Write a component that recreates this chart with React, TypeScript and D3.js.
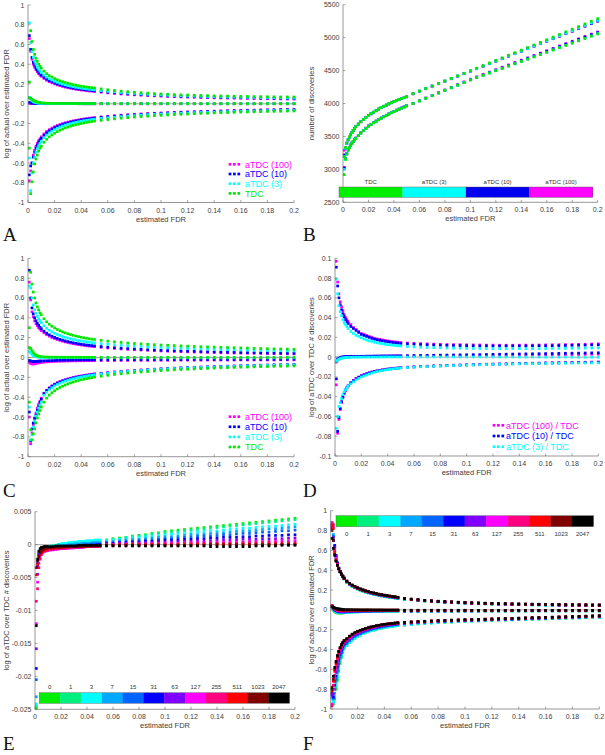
import React from 'react';
import * as d3 from 'd3';

// ---------- shared x grid (estimated FDR) ----------
const fdr = [0.001,0.002,0.003,0.004,0.005,0.006,0.007,0.008,0.009,0.01,
  0.012,0.014,0.016,0.018,0.02,0.022,0.024,0.026,0.028,0.03,
  0.032,0.034,0.036,0.038,0.04,0.042,0.044,0.046,0.048,0.05,
  0.055,0.06,0.065,0.07,0.075,0.08,0.085,0.09,0.095,0.1,
  0.105,0.11,0.115,0.12,0.125,0.13,0.135,0.14,0.145,0.15,
  0.155,0.16,0.165,0.17,0.175,0.18,0.185,0.19,0.195,0.2];

// ---------- ticks & labels ----------
const fdrTicks = [0,0.02,0.04,0.06,0.08,0.1,0.12,0.14,0.16,0.18,0.2];
const logTicks = [-1,-0.8,-0.6,-0.4,-0.2,0,0.2,0.4,0.6,0.8,1];
const discoveryTicks = [2500,3000,3500,4000,4500,5000,5500];
const ratioTicksD = [-0.1,-0.08,-0.06,-0.04,-0.02,0,0.02,0.04,0.06,0.08,0.1];
const ratioTicksE = [-0.025,-0.02,-0.015,-0.01,-0.005,0,0.005];
const legendA = ['aTDC (100)','aTDC (10)','aTDC (3)','TDC'];
const legendD = ['aTDC (100) / TDC','aTDC (10) / TDC','aTDC (3) / TDC'];
const methodBarLabels = ['TDC','aTDC (3)','aTDC (10)','aTDC (100)'];
const pseudoLabels = ['0','1','3','7','15','31','63','127','255','511','1023','2047'];

// ---------- Panel A ----------
const aUp100 = [.66,.53,.45,.40,.37,.345,.325,.305,.29,.278,
.256,.238,.224,.212,.201,.191,.183,.175,.168,.162,
.157,.152,.147,.143,.139,.136,.132,.129,.127,.124,
.117,.110,.104,.099,.094,.090,.086,.083,.080,.077,
.074,.072,.069,.067,.065,.063,.062,.060,.059,.057,
.056,.055,.054,.053,.052,.051,.050,.049,.048,.047];
const aMid100 = [.005,.004,.004,.003,.003,.003,.002,.002,.002,.002,
.002,.002,.001,.001,.001,.001,.001,.001,.001,.001,
.001,.001,.001,.001,.001,0,0,0,0,0,
0,0,0,0,0,0,0,0,0,0,
0,0,0,0,0,0,0,0,0,0,
0,0,0,0,0,0,0,0,0,0];
const aLow100 = [-.78,-.68,-.60,-.52,-.47,-.43,-.40,-.375,-.355,-.335,
-.305,-.28,-.262,-.246,-.232,-.220,-.210,-.201,-.193,-.186,
-.179,-.173,-.168,-.163,-.158,-.154,-.150,-.146,-.143,-.140,
-.133,-.127,-.121,-.116,-.111,-.107,-.103,-.099,-.096,-.093,
-.090,-.087,-.084,-.082,-.080,-.078,-.076,-.074,-.072,-.070,
-.068,-.067,-.065,-.064,-.062,-.061,-.060,-.058,-.057,-.056];
const aUp10 = [.69,.55,.47,.42,.39,.36,.34,.32,.305,.29,
.268,.25,.235,.222,.211,.201,.192,.184,.177,.171,
.165,.160,.155,.151,.147,.143,.140,.137,.134,.131,
.124,.117,.111,.106,.101,.097,.093,.089,.086,.083,
.080,.077,.075,.073,.071,.069,.067,.066,.064,.063,
.062,.061,.060,.059,.058,.057,.056,.055,.054,.053];
const aMid10 = [.012,.009,.007,.005,.004,.003,.003,.002,.002,.002,
.002,.002,.001,.001,.001,.001,.001,.001,.001,.001,
.001,.001,.001,0,0,0,0,0,0,0,
0,0,0,0,0,0,0,0,0,0,
0,0,0,0,0,0,0,0,0,0,
0,0,0,0,0,0,0,0,0,0];
const aLow10 = [-.72,-.63,-.60,-.54,-.49,-.45,-.42,-.39,-.37,-.35,
-.32,-.295,-.275,-.258,-.243,-.231,-.22,-.21,-.202,-.194,
-.187,-.181,-.175,-.170,-.165,-.161,-.157,-.153,-.149,-.146,
-.139,-.132,-.126,-.121,-.116,-.112,-.108,-.104,-.100,-.097,
-.094,-.091,-.088,-.086,-.084,-.082,-.080,-.078,-.076,-.074,
-.072,-.071,-.069,-.068,-.066,-.065,-.064,-.062,-.061,-.060];
const aUp3 = [.82,.62,.53,.47,.43,.40,.37,.35,.33,.315,
.29,.27,.253,.24,.228,.217,.207,.199,.191,.184,
.178,.172,.167,.162,.158,.154,.150,.147,.144,.141,
.133,.126,.120,.114,.109,.104,.100,.096,.092,.089,
.086,.083,.081,.079,.077,.075,.073,.071,.070,.068,
.067,.066,.065,.064,.063,.062,.061,.060,.059,.058];
const aMid3 = [.065,.045,.03,.02,.015,.011,.008,.006,.005,.004,
.003,.003,.002,.002,.002,.002,.001,.001,.001,.001,
.001,.001,.001,.001,.001,.001,.001,.001,.001,.001,
.001,.001,.001,.001,.001,.001,.001,.001,.001,.001,
.001,.001,.001,.001,.001,.001,.001,.001,.001,.001,
.001,.001,.001,.001,.001,.001,.001,.001,.001,.001];
const aLow3 = [-.55,-.88,-.70,-.60,-.54,-.49,-.455,-.425,-.40,-.38,
-.345,-.318,-.296,-.278,-.262,-.248,-.236,-.226,-.217,-.208,
-.201,-.194,-.188,-.182,-.177,-.172,-.168,-.164,-.160,-.156,
-.149,-.142,-.135,-.130,-.124,-.120,-.115,-.111,-.108,-.104,
-.101,-.098,-.095,-.093,-.090,-.088,-.086,-.084,-.082,-.080,
-.078,-.076,-.075,-.073,-.072,-.070,-.069,-.068,-.066,-.065];
const aUpTdc = [.22,.74,.63,.55,.50,.46,.43,.40,.38,.36,
.33,.305,.285,.27,.255,.243,.232,.223,.215,.207,
.200,.194,.188,.183,.178,.174,.170,.166,.163,.160,
.150,.142,.135,.128,.122,.117,.112,.107,.103,.099,
.096,.093,.090,.088,.086,.084,.082,.080,.079,.077,
.076,.075,.074,.073,.072,.071,.070,.069,.069,.068];
const aMidTdc = [.06,.055,.045,.035,.028,.022,.018,.014,.012,.010,
.008,.006,.005,.004,.004,.003,.003,.003,.003,.003,
.002,.002,.002,.002,.002,.002,.002,.002,.002,.002,
.002,.002,.002,.002,.002,.002,.002,.002,.002,.002,
.002,.002,.002,.002,.002,.001,.001,.001,.001,.001,
.001,.001,.001,.001,.001,.001,.001,.001,.001,.001];
const aLowTdc = [-.45,-.91,-.79,-.69,-.61,-.56,-.52,-.48,-.45,-.43,
-.39,-.36,-.335,-.315,-.298,-.282,-.268,-.256,-.245,-.236,
-.227,-.219,-.212,-.206,-.200,-.194,-.189,-.184,-.180,-.176,
-.168,-.160,-.153,-.146,-.140,-.135,-.130,-.125,-.121,-.117,
-.113,-.110,-.107,-.104,-.101,-.098,-.096,-.093,-.091,-.089,
-.087,-.085,-.083,-.082,-.080,-.078,-.077,-.076,-.074,-.073];

// ---------- Panel B ----------
const bUpTdc = [3190,3330,3400,3450,3490,3527,3560,3592,3622,3650,
3688,3724,3758,3790,3820,3845,3869,3893,3917,3940,
3959,3977,3995,4013,4030,4045,4060,4075,4090,4104,
4150,4189,4228,4266,4305,4343,4382,4420,4459,4498,
4537,4576,4615,4654,4693,4732,4771,4810,4849,4888,
4928,4968,5008,5048,5088,5128,5168,5208,5248,5288];
const bLowTdc = [2920,3150,3230,3290,3330,3365,3395,3422,3447,3470,
3512,3550,3586,3621,3655,3680,3705,3729,3752,3775,
3796,3817,3837,3857,3876,3894,3911,3928,3945,3962,
3998,4038,4078,4118,4158,4198,4238,4278,4318,4357,
4392,4427,4462,4497,4532,4567,4602,4637,4672,4707,
4742,4777,4812,4847,4882,4917,4952,4987,5022,5057];
const bUp3 = [3195,3320,3395,3447,3488,3525,3558,3590,3620,3648,
3686,3722,3756,3788,3818,3843,3867,3891,3915,3938,
3957,3975,3993,4011,4028,4043,4058,4073,4088,4102,
4148,4187,4226,4264,4302,4340,4378,4416,4454,4492,
4530,4568,4606,4644,4682,4720,4758,4796,4834,4872,
4911,4950,4989,5028,5067,5106,5145,5184,5223,5262];
const bLow3 = [3000,3160,3235,3293,3333,3368,3398,3425,3450,3473,
3515,3553,3589,3624,3658,3683,3708,3732,3755,3778,
3799,3820,3840,3860,3879,3897,3914,3931,3948,3965,
4000,4040,4080,4120,4160,4200,4240,4280,4320,4359,
4394,4429,4464,4499,4534,4569,4604,4639,4674,4709,
4744,4779,4814,4849,4884,4919,4954,4989,5024,5060];
const bUp10 = [3220,3325,3398,3448,3489,3526,3559,3591,3621,3649,
3687,3723,3757,3789,3819,3844,3868,3892,3916,3939,
3958,3976,3994,4012,4029,4044,4059,4074,4089,4103,
4148,4187,4226,4264,4302,4340,4378,4416,4454,4492,
4530,4568,4606,4644,4682,4720,4758,4796,4834,4872,
4910,4948,4986,5024,5062,5100,5138,5176,5214,5252];
const bLow10 = [3020,3165,3238,3295,3335,3369,3399,3426,3451,3474,
3516,3554,3590,3625,3659,3684,3709,3733,3756,3779,
3800,3821,3841,3861,3880,3898,3915,3932,3949,3966,
4001,4041,4081,4121,4161,4201,4241,4281,4321,4361,
4397,4433,4469,4505,4541,4577,4613,4649,4685,4721,
4757,4793,4829,4865,4901,4937,4973,5009,5045,5075];
const bUp100 = [3290,3320,3392,3446,3490,3527,3560,3591,3621,3648,
3686,3722,3756,3787,3817,3842,3866,3890,3914,3937,
3956,3974,3992,4010,4027,4042,4057,4072,4087,4101,
4146,4185,4223,4261,4299,4337,4375,4413,4451,4489,
4527,4565,4603,4641,4679,4717,4755,4793,4831,4869,
4907,4945,4983,5021,5059,5097,5135,5173,5211,5249];
const bLow100 = [3030,3170,3240,3296,3336,3370,3400,3427,3452,3475,
3517,3555,3591,3626,3660,3685,3710,3734,3757,3780,
3801,3822,3842,3862,3881,3899,3916,3933,3950,3967,
4002,4042,4083,4124,4165,4206,4247,4288,4329,4370,
4406,4442,4478,4514,4550,4586,4622,4658,4694,4730,
4766,4802,4838,4874,4910,4946,4982,5018,5054,5086];

// ---------- Panel C ----------
const cUp100 = [.76,.58,.46,.41,.37,.34,.32,.30,.285,.27,
.248,.23,.215,.202,.191,.181,.172,.164,.157,.151,
.145,.139,.134,.130,.126,.122,.118,.115,.112,.109,
.102,.096,.091,.086,.082,.078,.075,.072,.069,.066,
.064,.061,.059,.057,.055,.053,.051,.050,.048,.047,
.045,.044,.043,.042,.041,.040,.039,.038,.037,.036];
const cMid100 = [-.05,-.06,-.065,-.065,-.063,-.06,-.057,-.054,-.052,-.05,
-.047,-.045,-.043,-.041,-.04,-.039,-.038,-.037,-.036,-.035,
-.035,-.034,-.034,-.033,-.033,-.033,-.032,-.032,-.032,-.032,
-.031,-.031,-.030,-.030,-.030,-.029,-.029,-.029,-.028,-.028,
-.028,-.028,-.027,-.027,-.027,-.027,-.026,-.026,-.026,-.026,
-.026,-.025,-.025,-.025,-.025,-.025,-.025,-.024,-.024,-.024];
const cLow100 = [-.60,-.87,-.76,-.68,-.62,-.56,-.51,-.47,-.44,-.41,
-.36,-.33,-.305,-.285,-.268,-.254,-.242,-.232,-.223,-.215,
-.208,-.201,-.195,-.190,-.185,-.180,-.176,-.172,-.168,-.164,
-.158,-.151,-.145,-.139,-.134,-.129,-.125,-.121,-.117,-.113,
-.110,-.107,-.104,-.101,-.098,-.096,-.093,-.091,-.089,-.087,
-.085,-.083,-.081,-.079,-.077,-.076,-.074,-.073,-.071,-.070];
const cUp10 = [.88,.60,.50,.44,.40,.37,.345,.325,.305,.29,
.265,.245,.229,.215,.203,.192,.183,.175,.167,.160,
.154,.148,.143,.138,.134,.130,.126,.123,.120,.117,
.110,.104,.099,.094,.090,.086,.082,.079,.076,.073,
.070,.068,.066,.064,.062,.060,.058,.056,.055,.053,
.052,.050,.049,.048,.047,.046,.045,.044,.043,.042];
const cMid10 = [-.03,-.035,-.04,-.04,-.04,-.039,-.038,-.037,-.036,-.035,
-.034,-.033,-.032,-.031,-.030,-.029,-.028,-.028,-.027,-.027,
-.026,-.026,-.025,-.025,-.025,-.024,-.024,-.024,-.024,-.023,
-.023,-.023,-.023,-.022,-.022,-.022,-.022,-.022,-.021,-.021,
-.021,-.021,-.021,-.021,-.020,-.020,-.020,-.020,-.020,-.020,
-.020,-.019,-.019,-.019,-.019,-.019,-.019,-.019,-.018,-.018];
const cLow10 = [-.55,-.84,-.72,-.66,-.61,-.58,-.53,-.49,-.45,-.42,
-.365,-.335,-.31,-.29,-.273,-.259,-.247,-.237,-.228,-.22,
-.213,-.206,-.2,-.195,-.19,-.185,-.181,-.177,-.173,-.169,
-.162,-.155,-.149,-.143,-.138,-.133,-.128,-.124,-.120,-.116,
-.112,-.109,-.106,-.103,-.100,-.098,-.095,-.093,-.091,-.089,
-.087,-.085,-.083,-.081,-.079,-.077,-.076,-.074,-.073,-.071];
const cUp3 = [.72,.70,.60,.53,.48,.445,.415,.39,.37,.35,
.32,.295,.275,.258,.244,.232,.221,.211,.203,.195,
.188,.182,.176,.171,.166,.162,.158,.154,.150,.147,
.140,.134,.128,.123,.118,.114,.110,.107,.104,.101,
.098,.095,.093,.091,.089,.087,.085,.083,.081,.079,
.078,.076,.075,.073,.072,.071,.069,.068,.067,.066];
const cMid3 = [.06,.045,.03,.02,.013,.009,.006,.004,.003,.002,
.001,.001,0,0,0,0,0,0,0,0,
0,0,0,0,0,-.001,-.001,-.001,-.001,-.001,
-.002,-.002,-.002,-.002,-.002,-.002,-.002,-.003,-.003,-.003,
-.003,-.003,-.003,-.003,-.003,-.003,-.003,-.003,-.003,-.003,
-.003,-.003,-.003,-.003,-.003,-.003,-.003,-.003,-.003,-.003];
const cLow3 = [-.50,-.83,-.78,-.70,-.64,-.59,-.55,-.51,-.48,-.45,
-.38,-.35,-.325,-.305,-.287,-.272,-.259,-.248,-.238,-.229,
-.221,-.214,-.207,-.201,-.196,-.191,-.186,-.182,-.178,-.174,
-.165,-.158,-.151,-.145,-.140,-.135,-.130,-.126,-.122,-.118,
-.114,-.111,-.108,-.105,-.102,-.099,-.097,-.095,-.093,-.091,
-.089,-.087,-.085,-.083,-.081,-.079,-.078,-.076,-.075,-.073];
const cUpTdc = [.30,.86,.74,.66,.60,.55,.51,.48,.45,.43,
.39,.36,.335,.315,.298,.283,.270,.258,.248,.239,
.231,.223,.216,.210,.204,.199,.194,.189,.185,.181,
.173,.165,.158,.152,.146,.141,.137,.133,.129,.126,
.123,.120,.117,.114,.111,.109,.107,.105,.103,.101,
.099,.097,.095,.093,.091,.089,.087,.086,.084,.082];
const cMidTdc = [.10,.09,.07,.05,.035,.025,.018,.013,.010,.008,
.006,.005,.004,.003,.003,.003,.002,.002,.002,.002,
.002,.002,.002,.002,.002,.002,.002,.002,.002,.002,
.001,.001,.001,.001,.001,.001,.001,.001,.001,.001,
.001,.001,.001,.001,.001,.001,.001,.001,.001,.001,
.001,.001,.001,.001,.001,.001,.001,.001,.001,.001];
const cLowTdc = [-.45,-.73,-.83,-.77,-.72,-.66,-.61,-.57,-.535,-.50,
-.45,-.41,-.38,-.355,-.335,-.317,-.302,-.289,-.277,-.266,
-.256,-.247,-.239,-.232,-.225,-.219,-.213,-.208,-.203,-.198,
-.188,-.179,-.171,-.164,-.157,-.151,-.146,-.141,-.136,-.132,
-.128,-.124,-.121,-.118,-.115,-.112,-.109,-.107,-.104,-.102,
-.100,-.098,-.096,-.094,-.092,-.091,-.089,-.088,-.086,-.085];

// ---------- Panel D ----------
const dUp100 = [.097,.076,.064,.056,.051,.047,.043,.040,.038,.036,
.033,.030,.028,.026,.024,.023,.022,.021,.020,.019,
.0185,.018,.0175,.017,.0165,.016,.0157,.0154,.0151,.0148,
.0143,.014,.0137,.0134,.0132,.013,.0128,.0127,.0126,.0125,
.0124,.0123,.0122,.0122,.0121,.0121,.0121,.0121,.0122,.0122,
.0123,.0124,.0125,.0126,.0127,.0128,.013,.0131,.0133,.0135];
const dMid100 = [-.005,-.003,-.002,-.001,-.0005,0,.0002,.0003,.0004,.0005,
.0006,.0006,.0007,.0007,.0008,.0008,.0008,.0009,.0009,.0009,
.001,.001,.001,.001,.001,.001,.0011,.0011,.0011,.0011,
.0012,.0013,.0013,.0014,.0014,.0015,.0015,.0016,.0016,.0017,
.0017,.0018,.0018,.0019,.0019,.002,.002,.0021,.0022,.0022,
.0023,.0024,.0024,.0025,.0026,.0026,.0027,.0028,.0029,.003];
const dLow100 = [-.028,-.077,-.063,-.053,-.046,-.041,-.037,-.034,-.031,-.029,
-.026,-.0235,-.0215,-.02,-.0187,-.0176,-.0166,-.0158,-.015,-.0144,
-.0138,-.0133,-.0128,-.0124,-.012,-.0117,-.0114,-.0111,-.0108,-.0105,
-.0101,-.0097,-.0094,-.0091,-.0088,-.0086,-.0083,-.0081,-.0079,-.0077,
-.0075,-.0073,-.0071,-.007,-.0068,-.0067,-.0065,-.0064,-.0062,-.0061,
-.006,-.0058,-.0057,-.0056,-.0054,-.0053,-.0052,-.0051,-.005,-.0048];
const dUp10 = [.091,.072,.060,.053,.048,.044,.041,.038,.036,.034,
.031,.029,.027,.025,.023,.022,.021,.020,.019,.0182,
.0176,.017,.0165,.016,.0156,.0152,.0148,.0145,.0142,.0139,
.0134,.0131,.0128,.0125,.0123,.0121,.0119,.0118,.0117,.0116,
.0115,.0114,.0114,.0113,.0113,.0113,.0113,.0113,.0114,.0114,
.0115,.0115,.0116,.0117,.0118,.0119,.012,.0121,.0123,.0124];
const dMid10 = [-.004,-.002,-.001,-.0005,0,.0002,.0003,.0004,.0005,.0006,
.0007,.0007,.0008,.0008,.0009,.0009,.001,.001,.001,.0011,
.0011,.0011,.0012,.0012,.0012,.0013,.0013,.0013,.0014,.0014,
.0015,.0016,.0017,.0018,.0019,.002,.0021,.0022,.0023,.0024,
.0025,.0026,.0027,.0028,.0029,.003,.0031,.0032,.0033,.0034,
.0035,.0036,.0037,.0038,.0039,.004,.0041,.0042,.0043,.0044];
const dLow10 = [-.022,-.075,-.061,-.052,-.045,-.040,-.036,-.033,-.031,-.029,
-.026,-.024,-.022,-.0205,-.019,-.018,-.017,-.016,-.0152,-.0146,
-.014,-.0135,-.013,-.0126,-.0122,-.0119,-.0116,-.0113,-.011,-.0107,
-.0103,-.0099,-.0096,-.0093,-.009,-.0088,-.0085,-.0083,-.0081,-.0079,
-.0077,-.0075,-.0073,-.0072,-.007,-.0069,-.0067,-.0066,-.0064,-.0063,
-.0062,-.006,-.0059,-.0058,-.0057,-.0056,-.0055,-.0054,-.0053,-.0052];
const dUp3 = [.079,.064,.052,.046,.042,.038,.035,.033,.031,.029,
.026,.024,.022,.021,.0195,.0183,.0173,.0165,.0158,.0151,
.0145,.014,.0135,.0131,.0127,.0124,.0121,.0118,.0115,.0113,
.0108,.0104,.0101,.0098,.0096,.0094,.0092,.0091,.009,.0089,
.0088,.0087,.0087,.0086,.0086,.0086,.0086,.0086,.0086,.0086,
.0087,.0087,.0088,.0088,.0089,.009,.009,.0091,.0092,.0093];
const dMid3 = [-.004,-.003,-.002,-.0015,-.001,-.0008,-.0006,-.0005,-.0004,-.0003,
-.0002,-.0001,0,0,0,.0001,.0001,.0001,.0001,.0001,
.0001,.0002,.0002,.0002,.0002,.0002,.0002,.0002,.0002,.0002,
.0002,.0002,.0002,.0002,.0002,.0002,.0002,.0002,.0002,.0002,
.0002,.0002,.0002,.0002,.0002,.0001,.0001,.0001,.0001,.0001,
0,0,0,0,0,0,-.0001,-.0001,-.0001,-.0001];
const dLow3 = [-.072,-.06,-.05,-.046,-.042,-.038,-.035,-.033,-.031,-.029,
-.027,-.025,-.023,-.0215,-.020,-.019,-.018,-.017,-.016,-.0153,
-.0146,-.014,-.0135,-.013,-.0126,-.0122,-.0118,-.0115,-.0112,-.0109,
-.0105,-.0101,-.0098,-.0095,-.0092,-.0089,-.0087,-.0085,-.0083,-.0081,
-.0079,-.0077,-.0075,-.0074,-.0072,-.0071,-.0069,-.0068,-.0067,-.0066,
-.0065,-.0064,-.0063,-.0062,-.0061,-.006,-.006,-.0059,-.0058,-.0058];

// ---------- Panel E (one curve per pseudo-count) ----------
const e0 = [-.0248,-.0035,-.0015,-.001,-.0008,-.0007,-.0006,-.0005,-.0004,-.0004,
-.0003,-.0002,-.0001,0,0,.0001,.0001,.0002,.0002,.0002,
.0003,.0003,.0003,.0003,.0004,.0004,.0004,.0005,.0005,.0005,
.0007,.0009,.001,.0011,.0013,.0014,.0015,.0017,.0018,.002,
.0021,.0022,.0023,.0024,.0025,.0026,.0027,.0028,.0029,.003,
.0031,.0032,.0033,.0034,.0035,.0036,.0037,.0038,.0039,.004];
const e1 = [-.0245,-.0032,-.0014,-.0009,-.0007,-.0006,-.0005,-.0005,-.0004,-.0003,
-.0003,-.0002,-.0001,0,.0001,.0001,.0002,.0002,.0003,.0003,
.0003,.0004,.0004,.0004,.0005,.0005,.0005,.0005,.0006,.0006,
.0007,.0008,.0009,.0011,.0012,.0013,.0014,.0016,.0017,.0018,
.0019,.002,.0021,.0022,.0023,.0024,.0025,.0026,.0027,.0028,
.0029,.003,.0031,.0032,.0033,.0034,.0035,.0036,.0037,.0038];
const e3 = [-.0242,-.003,-.0013,-.0009,-.0007,-.0006,-.0005,-.0004,-.0004,-.0003,
-.0002,-.0002,-.0001,0,.0001,.0002,.0002,.0003,.0003,.0004,
.0004,.0005,.0005,.0005,.0006,.0006,.0006,.0007,.0007,.0007,
.0006,.0007,.0008,.0009,.001,.0011,.0012,.0013,.0014,.0015,
.0016,.0017,.0017,.0018,.0019,.002,.0021,.0021,.0022,.0023,
.0024,.0025,.0025,.0026,.0027,.0028,.0028,.0029,.003,.0031];
const e7 = [-.0231,-.0025,-.0012,-.0009,-.0007,-.0006,-.0006,-.0005,-.0005,-.0004,
-.0004,-.0003,-.0003,-.0002,-.0002,-.0001,-.0001,0,0,.0001,
.0001,.0001,.0002,.0002,.0002,.0002,.0003,.0003,.0003,.0003,
.0004,.0005,.0006,.0007,.0008,.0008,.0009,.001,.0011,.0012,
.0012,.0013,.0014,.0015,.0015,.0016,.0017,.0018,.0018,.0019,
.002,.0021,.0021,.0022,.0023,.0024,.0024,.0025,.0026,.0027];
const e15 = [-.0205,-.0028,-.0014,-.001,-.0008,-.0007,-.0007,-.0006,-.0006,-.0006,
-.0005,-.0005,-.0004,-.0004,-.0004,-.0003,-.0003,-.0002,-.0002,-.0002,
-.0001,-.0001,-.0001,0,0,0,.0001,.0001,.0001,.0001,
.0003,.0003,.0004,.0005,.0005,.0006,.0007,.0007,.0008,.0009,
.0009,.001,.0011,.0011,.0012,.0013,.0013,.0014,.0015,.0015,
.0016,.0017,.0017,.0018,.0019,.0019,.002,.0021,.0021,.0022];
const e31 = [-.0188,-.0033,-.0016,-.0011,-.0009,-.0008,-.0007,-.0007,-.0006,-.0006,
-.0006,-.0005,-.0005,-.0005,-.0004,-.0004,-.0004,-.0003,-.0003,-.0003,
-.0002,-.0002,-.0002,-.0002,-.0001,-.0001,-.0001,-.0001,0,0,
.0002,.0002,.0003,.0003,.0004,.0004,.0005,.0005,.0006,.0007,
.0007,.0007,.0008,.0008,.0009,.0009,.001,.001,.0011,.0011,
.0011,.0012,.0012,.0013,.0013,.0014,.0014,.0014,.0015,.0015];
const e63 = [-.0158,-.0045,-.0022,-.0014,-.0011,-.001,-.0009,-.0009,-.0008,-.0008,
-.0008,-.0007,-.0007,-.0006,-.0006,-.0006,-.0005,-.0005,-.0005,-.0004,
-.0004,-.0004,-.0004,-.0003,-.0003,-.0003,-.0003,-.0002,-.0002,-.0002,
.0001,.0001,.0002,.0002,.0002,.0003,.0003,.0003,.0004,.0004,
.0004,.0005,.0005,.0005,.0006,.0006,.0006,.0007,.0007,.0007,
.0007,.0008,.0008,.0008,.0009,.0009,.0009,.0009,.001,.001];
const e127 = [-.012,-.0057,-.0028,-.0018,-.0013,-.0011,-.001,-.001,-.0009,-.0009,
-.0008,-.0008,-.0007,-.0007,-.0006,-.0006,-.0006,-.0005,-.0005,-.0005,
-.0004,-.0004,-.0004,-.0004,-.0003,-.0003,-.0003,-.0003,-.0003,-.0002,
0,0,.0001,.0001,.0001,.0001,.0001,.0002,.0002,.0002,
.0002,.0002,.0003,.0003,.0003,.0003,.0003,.0004,.0004,.0004,
.0004,.0004,.0005,.0005,.0005,.0005,.0005,.0006,.0006,.0006];
const e255 = [-.0086,-.0067,-.0035,-.0022,-.0015,-.0012,-.001,-.0009,-.0008,-.0008,
-.0007,-.0007,-.0006,-.0006,-.0006,-.0005,-.0005,-.0005,-.0004,-.0004,
-.0004,-.0004,-.0003,-.0003,-.0003,-.0003,-.0003,-.0002,-.0002,-.0002,
0,0,0,0,.0001,.0001,.0001,.0001,.0001,.0001,
.0001,.0001,.0002,.0002,.0002,.0002,.0002,.0002,.0002,.0002,
.0002,.0003,.0003,.0003,.0003,.0003,.0003,.0003,.0003,.0003];
const e511 = [-.0046,-.003,-.002,-.0015,-.0012,-.001,-.0009,-.0008,-.0007,-.0006,
-.0006,-.0005,-.0005,-.0005,-.0004,-.0004,-.0004,-.0004,-.0003,-.0003,
-.0003,-.0003,-.0003,-.0003,-.0002,-.0002,-.0002,-.0002,-.0002,-.0002,
-.0001,-.0001,0,0,0,0,0,0,0,0,
0,0,0,0,.0001,.0001,.0001,.0001,.0001,.0001,
.0001,.0001,.0001,.0001,.0001,.0001,.0001,.0001,.0001,.0001];
const e1023 = [-.0035,-.0025,-.0018,-.0013,-.001,-.0008,-.0007,-.0006,-.0006,-.0005,
-.0005,-.0005,-.0004,-.0004,-.0004,-.0004,-.0003,-.0003,-.0003,-.0003,
-.0003,-.0003,-.0003,-.0002,-.0002,-.0002,-.0002,-.0002,-.0002,-.0002,
-.0001,-.0001,-.0001,-.0001,-.0001,-.0001,-.0001,-.0001,-.0001,-.0001,
-.0001,-.0001,-.0001,-.0001,-.0001,-.0001,0,0,0,0,
0,0,0,0,0,0,0,0,0,0];
const e2047 = [-.0123,-.0022,-.001,-.0006,-.0004,-.0004,-.0003,-.0003,-.0003,-.0003,
-.0003,-.0003,-.0002,-.0002,-.0002,-.0002,-.0002,-.0002,-.0002,-.0002,
-.0002,-.0001,-.0001,-.0001,-.0001,-.0001,-.0001,-.0001,-.0001,-.0001,
-.0002,-.0002,-.0002,-.0002,-.0002,-.0002,-.0002,-.0002,-.0002,-.0002,
-.0002,-.0002,-.0002,-.0002,-.0002,-.0002,-.0003,-.0003,-.0003,-.0003,
-.0003,-.0003,-.0003,-.0002,-.0002,-.0002,-.0002,-.0001,-.0001,-.0001];

// ---------- Panel F (first 10 points per pseudo-count, tails per similar group) ----------
const fUpperEarly = [
[.85,.70,.58,.50,.45,.41,.38,.355,.333,.312],
[.87,.72,.59,.51,.455,.413,.382,.356,.334,.313],
[.88,.74,.60,.52,.46,.415,.383,.357,.335,.314],
[.86,.76,.62,.53,.465,.418,.385,.358,.336,.315],
[.84,.74,.64,.54,.47,.42,.387,.359,.337,.316],
[.82,.70,.65,.55,.475,.42,.388,.36,.338,.317],
[.83,.73,.63,.54,.47,.42,.387,.36,.338,.317],
[.86,.84,.61,.52,.46,.418,.386,.36,.339,.318],
[.88,.86,.60,.51,.455,.416,.386,.36,.339,.319],
[.85,.82,.58,.50,.452,.415,.385,.36,.34,.319],
[.80,.70,.56,.495,.45,.415,.385,.36,.34,.32],
[.72,.62,.55,.49,.45,.415,.385,.36,.34,.32]];
const fUpperTails = [
[.278,.256,.238,.223,.210,.199,.189,.180,.172,.165,.158,.152,.146,.141,.136,.132,.127,.123,.119,.115,
.109,.102,.096,.090,.085,.081,.077,.074,.071,.068,.065,.063,.061,.059,.057,.056,.054,.053,.052,.051,
.050,.049,.048,.047,.046,.045,.045,.044,.043,.043],
[.282,.260,.242,.227,.214,.203,.193,.184,.176,.169,.162,.156,.150,.145,.140,.136,.131,.127,.123,.119,
.111,.104,.098,.092,.087,.083,.079,.076,.073,.070,.067,.065,.063,.061,.059,.058,.056,.055,.054,.053,
.052,.051,.050,.049,.048,.047,.047,.046,.045,.045],
[.285,.263,.245,.230,.217,.206,.196,.187,.179,.172,.165,.159,.153,.148,.143,.139,.134,.130,.126,.122,
.112,.105,.099,.093,.088,.084,.080,.077,.074,.071,.068,.066,.064,.062,.060,.059,.057,.056,.055,.054,
.053,.052,.051,.050,.049,.048,.048,.047,.046,.046],
[.287,.265,.247,.232,.219,.208,.198,.189,.181,.174,.167,.161,.155,.150,.145,.141,.136,.132,.128,.124,
.113,.106,.100,.094,.089,.085,.081,.078,.075,.072,.069,.067,.065,.063,.061,.060,.058,.057,.056,.055,
.054,.053,.052,.051,.050,.049,.049,.048,.047,.047],
[.289,.267,.249,.234,.221,.210,.200,.191,.183,.176,.169,.163,.157,.152,.147,.143,.138,.134,.130,.126,
.114,.107,.101,.095,.090,.086,.082,.079,.076,.073,.070,.068,.066,.064,.062,.061,.059,.058,.057,.056,
.055,.054,.053,.052,.051,.050,.050,.049,.048,.048],
[.29,.268,.25,.235,.222,.211,.201,.192,.184,.177,.170,.164,.158,.153,.148,.144,.139,.135,.131,.127,
.115,.108,.102,.096,.091,.087,.083,.080,.077,.074,.071,.069,.067,.065,.063,.062,.060,.059,.058,.057,
.056,.055,.054,.053,.052,.051,.051,.050,.049,.049]];
const fMiddleEarly = [
[.02,-.005,-.02,-.028,-.031,-.032,-.032,-.031,-.030,-.028],
[.025,0,-.015,-.025,-.029,-.03,-.03,-.03,-.029,-.027],
[.03,.005,-.01,-.02,-.026,-.028,-.028,-.028,-.027,-.026],
[.03,.01,-.005,-.015,-.02,-.023,-.024,-.024,-.024,-.023],
[.035,.012,0,-.01,-.016,-.019,-.02,-.021,-.021,-.021],
[.035,.015,.003,-.006,-.012,-.015,-.016,-.017,-.017,-.017],
[.04,.018,.006,-.003,-.008,-.011,-.013,-.014,-.014,-.014],
[.04,.02,.01,0,-.005,-.008,-.009,-.01,-.01,-.01],
[.045,.022,.012,.003,-.002,-.005,-.006,-.007,-.007,-.008],
[.04,.025,.015,.006,.001,-.002,-.003,-.004,-.004,-.005],
[.035,.025,.016,.008,.004,.001,0,-.001,-.002,-.002],
[.03,.025,.02,.015,.012,.01,.008,.006,.005,.004]];
const fMiddleTails = [
[-.026,-.024,-.022,-.021,-.020,-.019,-.018,-.017,-.016,-.016,-.015,-.015,-.014,-.014,-.013,-.013,-.013,-.012,-.012,-.012,
-.014,-.014,-.013,-.013,-.013,-.013,-.012,-.012,-.012,-.012,-.012,-.012,-.011,-.011,-.011,-.011,-.011,-.011,-.011,-.011,
-.010,-.010,-.010,-.010,-.010,-.010,-.010,-.010,-.010,-.010],
[-.020,-.019,-.018,-.017,-.016,-.015,-.014,-.014,-.013,-.013,-.012,-.012,-.011,-.011,-.011,-.010,-.010,-.010,-.010,-.010,
-.012,-.012,-.011,-.011,-.011,-.011,-.011,-.011,-.010,-.010,-.010,-.010,-.010,-.010,-.010,-.010,-.009,-.009,-.009,-.009,
-.009,-.009,-.009,-.009,-.009,-.009,-.009,-.009,-.009,-.009],
[-.015,-.014,-.013,-.012,-.012,-.011,-.011,-.010,-.010,-.010,-.009,-.009,-.009,-.009,-.008,-.008,-.008,-.008,-.008,-.008,
-.010,-.010,-.010,-.009,-.009,-.009,-.009,-.009,-.009,-.009,-.009,-.009,-.008,-.008,-.008,-.008,-.008,-.008,-.008,-.008,
-.008,-.008,-.008,-.008,-.008,-.008,-.008,-.008,-.008,-.008],
[-.009,-.008,-.008,-.007,-.007,-.007,-.006,-.006,-.006,-.006,-.006,-.005,-.005,-.005,-.005,-.005,-.005,-.005,-.005,-.005,
-.008,-.008,-.008,-.008,-.007,-.007,-.007,-.007,-.007,-.007,-.007,-.007,-.007,-.007,-.007,-.007,-.007,-.007,-.007,-.007,
-.007,-.007,-.007,-.007,-.007,-.007,-.007,-.007,-.007,-.007],
[-.003,-.003,-.003,-.003,-.003,-.003,-.003,-.003,-.003,-.003,-.003,-.003,-.003,-.003,-.003,-.003,-.003,-.003,-.003,-.003,
-.006,-.006,-.006,-.006,-.006,-.006,-.006,-.006,-.006,-.006,-.006,-.006,-.006,-.006,-.006,-.006,-.006,-.006,-.006,-.006,
-.006,-.006,-.006,-.006,-.006,-.006,-.006,-.006,-.006,-.006],
[.003,.002,.002,.001,.001,0,0,0,0,0,-.001,-.001,-.001,-.001,-.002,-.002,-.002,-.002,-.002,-.002,
-.004,-.004,-.004,-.004,-.004,-.004,-.004,-.004,-.004,-.004,-.005,-.005,-.005,-.005,-.005,-.005,-.005,-.005,-.005,-.005,
-.005,-.005,-.005,-.005,-.005,-.005,-.005,-.005,-.005,-.005]];
const fLowerEarly = [
[-.80,-.95,-.90,-.80,-.71,-.62,-.54,-.48,-.43,-.39],
[-.85,-.93,-.88,-.78,-.69,-.60,-.52,-.47,-.42,-.38],
[-.90,-.93,-.87,-.76,-.67,-.58,-.51,-.46,-.41,-.375],
[-.88,-.90,-.84,-.73,-.64,-.56,-.49,-.44,-.40,-.365],
[-.86,-.89,-.80,-.70,-.61,-.54,-.47,-.43,-.39,-.355],
[-.84,-.88,-.76,-.67,-.58,-.51,-.45,-.41,-.37,-.345],
[-.86,-.85,-.72,-.63,-.55,-.49,-.43,-.39,-.36,-.335],
[-.95,-.80,-.68,-.60,-.52,-.46,-.41,-.375,-.35,-.325],
[-.97,-.76,-.66,-.58,-.50,-.45,-.40,-.37,-.34,-.32],
[-.82,-.72,-.62,-.55,-.48,-.43,-.39,-.36,-.335,-.315],
[-.78,-.70,-.60,-.53,-.47,-.42,-.385,-.355,-.33,-.31],
[-.80,-.67,-.58,-.52,-.46,-.42,-.38,-.35,-.33,-.31]];
const fLowerTails = [
[-.36,-.33,-.305,-.285,-.268,-.253,-.24,-.229,-.219,-.21,-.202,-.195,-.189,-.183,-.178,-.173,-.169,-.165,-.161,-.158,
-.152,-.146,-.141,-.136,-.132,-.128,-.125,-.122,-.119,-.116,-.113,-.111,-.109,-.106,-.104,-.102,-.100,-.098,-.096,-.094,
-.092,-.090,-.088,-.086,-.084,-.082,-.080,-.078,-.076,-.075],
[-.34,-.31,-.287,-.268,-.252,-.238,-.226,-.215,-.206,-.198,-.19,-.184,-.178,-.172,-.167,-.162,-.158,-.154,-.15,-.147,
-.140,-.135,-.130,-.126,-.123,-.120,-.117,-.114,-.112,-.110,-.107,-.105,-.103,-.101,-.099,-.097,-.095,-.093,-.091,-.089,
-.087,-.085,-.083,-.081,-.079,-.077,-.075,-.073,-.071,-.069],
[-.32,-.292,-.27,-.252,-.237,-.224,-.213,-.203,-.194,-.186,-.179,-.173,-.167,-.162,-.157,-.153,-.149,-.145,-.142,-.139,
-.133,-.129,-.125,-.121,-.118,-.115,-.112,-.110,-.107,-.105,-.103,-.101,-.099,-.097,-.095,-.093,-.091,-.089,-.087,-.085,
-.083,-.081,-.079,-.077,-.075,-.073,-.071,-.069,-.067,-.065],
[-.305,-.278,-.256,-.239,-.225,-.213,-.202,-.193,-.185,-.177,-.171,-.165,-.159,-.154,-.15,-.146,-.142,-.139,-.136,-.133,
-.129,-.125,-.121,-.118,-.115,-.112,-.109,-.107,-.104,-.102,-.100,-.098,-.096,-.094,-.092,-.090,-.088,-.086,-.084,-.082,
-.080,-.078,-.076,-.074,-.072,-.070,-.068,-.066,-.064,-.062],
[-.295,-.27,-.249,-.233,-.22,-.208,-.198,-.189,-.181,-.174,-.168,-.162,-.157,-.152,-.148,-.144,-.14,-.137,-.134,-.131,
-.127,-.123,-.119,-.116,-.113,-.110,-.107,-.105,-.103,-.101,-.099,-.097,-.095,-.093,-.091,-.089,-.087,-.085,-.083,-.081,
-.079,-.077,-.075,-.073,-.071,-.069,-.067,-.065,-.063,-.061],
[-.29,-.265,-.245,-.23,-.217,-.206,-.196,-.187,-.179,-.172,-.166,-.16,-.155,-.15,-.146,-.142,-.139,-.136,-.133,-.13,
-.126,-.122,-.118,-.115,-.112,-.109,-.106,-.104,-.102,-.100,-.098,-.096,-.094,-.092,-.090,-.088,-.086,-.084,-.082,-.080,
-.078,-.076,-.074,-.072,-.070,-.068,-.066,-.064,-.062,-.060]];
const fGroupOf = [0,0,0,1,1,2,2,3,3,4,4,5];

// ---------- colours ----------
const C_TDC = '#00e800', C_A3 = '#00ffff', C_A10 = '#0000ff', C_A100 = '#ff00ff';
const methodBarColors = ['#00ee00','#00ffff','#0000ee','#ff00ff'];
const pseudoColors = ['#00ee00','#00f080','#00ffff','#00a8ff','#0064ff','#0000ff','#8000ff','#ff00ff','#ff0080','#ff0000','#800000','#000000'];

type Series = { color: string; bands: number[][] };

const FONT = '"Liberation Sans", Arial, Helvetica, sans-serif';
const AXIS = '#6a6a6a';
const TEXT = '#404040';
const fmt = (v: number) => String(Math.round(v * 100000) / 100000);

interface PanelCfg {
  x0: number; x1: number; yT: number; yB: number;
  yDomain: [number, number]; yTicks: number[];
  series: Series[]; zero: boolean;
  yLabel: string; yLabelX: number;
  letter: string; letterX: number; letterY: number;
}

function Panel({ cfg }: { cfg: PanelCfg }) {
  const x = d3.scaleLinear().domain([0, 0.2]).range([cfg.x0, cfg.x1]);
  const y = d3.scaleLinear().domain(cfg.yDomain).range([cfg.yB, cfg.yT]);
  const s = 2.7;
  return (
    <g>
      {cfg.zero && <line x1={cfg.x0} x2={cfg.x1} y1={y(0)} y2={y(0)} stroke="#909090" strokeWidth={0.8} />}
      {cfg.series.map((se, i) => (
        <g key={i} fill={se.color}>
          {se.bands.map((b, j) => b.map((v, k) => (
            <rect key={j + '-' + k} x={x(fdr[k]) - s / 2} y={y(v) - s / 2} width={s} height={s} />
          )))}
        </g>
      ))}
      <line x1={cfg.x0} x2={cfg.x0} y1={cfg.yT} y2={cfg.yB} stroke={AXIS} strokeWidth={0.7} />
      <line x1={cfg.x0} x2={cfg.x1} y1={cfg.yB} y2={cfg.yB} stroke={AXIS} strokeWidth={0.7} />
      {cfg.yTicks.map((t, i) => (
        <g key={'y' + i}>
          <line x1={cfg.x0} x2={cfg.x0 + 2.5} y1={y(t)} y2={y(t)} stroke={AXIS} strokeWidth={0.6} />
          <text x={cfg.x0 - 3.5} y={y(t) + 2.5} textAnchor="end" fontSize={7} fill={TEXT} fontFamily={FONT}>{fmt(t)}</text>
        </g>
      ))}
      {fdrTicks.map((t, i) => (
        <g key={'x' + i}>
          <line x1={x(t)} x2={x(t)} y1={cfg.yB} y2={cfg.yB - 2.5} stroke={AXIS} strokeWidth={0.6} />
          <text x={x(t)} y={cfg.yB + 10} textAnchor="middle" fontSize={7} fill={TEXT} fontFamily={FONT}>{fmt(t)}</text>
        </g>
      ))}
      <text x={(cfg.x0 + cfg.x1) / 2} y={cfg.yB + 19} textAnchor="middle" fontSize={7.5} fill={TEXT} fontFamily={FONT}>estimated FDR</text>
      <text transform={`translate(${cfg.yLabelX + 2.6},${(cfg.yT + cfg.yB) / 2}) rotate(-90)`} textAnchor="middle" fontSize={7.5} fill={TEXT} fontFamily={FONT}>{cfg.yLabel}</text>
      <text x={cfg.letterX} y={cfg.letterY} fontSize={19} fill="#111" fontFamily='"Liberation Serif", "Times New Roman", serif'>{cfg.letter}</text>
    </g>
  );
}

function DotLegend({ labels, colors, xDots, xText, yStart, dy }: { labels: string[]; colors: string[]; xDots: number[]; xText: number; yStart: number; dy: number }) {
  return (
    <g>
      {labels.map((l, i) => (
        <g key={i} fill={colors[i]}>
          {xDots.map((xd, j) => <rect key={j} x={xd - 1.35} y={yStart + i * dy - 1.35} width={2.7} height={2.7} />)}
          <text x={xText} y={yStart + i * dy + 3.2} fontSize={9} fontFamily={FONT}>{l}</text>
        </g>
      ))}
    </g>
  );
}

function ColorBar({ labels, colors, x0, x1, y0, y1, labelY }: { labels: string[]; colors: string[]; x0: number; x1: number; y0: number; y1: number; labelY: number }) {
  const band = d3.scaleBand<string>().domain(labels).range([x0, x1]);
  return (
    <g>
      {labels.map((l, i) => (
        <g key={i}>
          <rect x={band(l)!} y={y0} width={band.bandwidth() + 0.3} height={y1 - y0} fill={colors[i]} />
          <text x={band(l)! + band.bandwidth() / 2} y={labelY} textAnchor="middle" fontSize={6} fill="#333" fontFamily={FONT}>{l}</text>
        </g>
      ))}
      <rect x={x0} y={y0} width={x1 - x0} height={y1 - y0} fill="none" stroke="#555" strokeWidth={0.4} />
    </g>
  );
}

export default function App() {
  const seriesA: Series[] = [
    { color: C_A100, bands: [aUp100, aMid100, aLow100] },
    { color: C_A10, bands: [aUp10, aMid10, aLow10] },
    { color: C_A3, bands: [aUp3, aMid3, aLow3] },
    { color: C_TDC, bands: [aUpTdc, aMidTdc, aLowTdc] },
  ];
  const seriesB: Series[] = [
    { color: C_A100, bands: [bUp100, bLow100] },
    { color: C_A10, bands: [bUp10, bLow10] },
    { color: C_A3, bands: [bUp3, bLow3] },
    { color: C_TDC, bands: [bUpTdc, bLowTdc] },
  ];
  const seriesC: Series[] = [
    { color: C_A100, bands: [cUp100, cMid100, cLow100] },
    { color: C_A10, bands: [cUp10, cMid10, cLow10] },
    { color: C_A3, bands: [cUp3, cMid3, cLow3] },
    { color: C_TDC, bands: [cUpTdc, cMidTdc, cLowTdc] },
  ];
  const seriesD: Series[] = [
    { color: C_A100, bands: [dUp100, dMid100, dLow100] },
    { color: C_A10, bands: [dUp10, dMid10, dLow10] },
    { color: C_A3, bands: [dUp3, dMid3, dLow3] },
  ];
  const eValues = [e0, e1, e3, e7, e15, e31, e63, e127, e255, e511, e1023, e2047];
  const seriesE: Series[] = eValues.map((v, i) => ({ color: pseudoColors[i], bands: [v] }));
  const seriesF: Series[] = pseudoColors.map((c, i) => ({
    color: c,
    bands: [
      [...fUpperEarly[i], ...fUpperTails[fGroupOf[i]]],
      [...fMiddleEarly[i], ...fMiddleTails[fGroupOf[i]]],
      [...fLowerEarly[i], ...fLowerTails[fGroupOf[i]]],
    ],
  }));

  const yLabFDR = 'log of actual over estimated FDR';
  const yLabRatio = 'log of aTDC over TDC # discoveries';
  const panels: PanelCfg[] = [
    { x0: 28, x1: 294, yT: 5, yB: 202.5, yDomain: [-1, 1], yTicks: logTicks, series: seriesA, zero: true, yLabel: yLabFDR, yLabelX: 6, letter: 'A', letterX: 3, letterY: 241 },
    { x0: 343, x1: 597.7, yT: 4.7, yB: 202.3, yDomain: [2500, 5500], yTicks: discoveryTicks, series: seriesB, zero: false, yLabel: 'number of discoveries', yLabelX: 311.7, letter: 'B', letterX: 303, letterY: 241 },
    { x0: 28, x1: 294, yT: 258.3, yB: 456.7, yDomain: [-1, 1], yTicks: logTicks, series: seriesC, zero: true, yLabel: yLabFDR, yLabelX: 6, letter: 'C', letterX: 3, letterY: 497 },
    { x0: 335, x1: 598.3, yT: 258.3, yB: 456, yDomain: [-0.1, 0.1], yTicks: ratioTicksD, series: seriesD, zero: true, yLabel: yLabRatio, yLabelX: 311.7, letter: 'D', letterX: 303, letterY: 497 },
    { x0: 35, x1: 295, yT: 511.7, yB: 709.3, yDomain: [-0.025, 0.005], yTicks: ratioTicksE, series: seriesE, zero: true, yLabel: yLabRatio, yLabelX: 6, letter: 'E', letterX: 3, letterY: 750 },
    { x0: 330.7, x1: 599.3, yT: 510.7, yB: 709, yDomain: [-1, 1], yTicks: logTicks, series: seriesF, zero: true, yLabel: yLabFDR, yLabelX: 311.7, letter: 'F', letterX: 303, letterY: 750 },
  ];

  return (
    <div style={{ position: 'absolute', left: 0, top: 0 }}>
      <svg width={605} height={755} viewBox="0 0 605 755" style={{ display: 'block', background: '#fff' }}>
        <rect x={0} y={0} width={605} height={755} fill="#fff" />
        {panels.map((p, i) => <Panel key={i} cfg={p} />)}
        <DotLegend labels={legendA} colors={[C_A100, C_A10, C_A3, C_TDC]} xDots={[230, 234.4, 238.8]} xText={245} yStart={164.3} dy={9.7} />
        <ColorBar labels={methodBarLabels} colors={methodBarColors} x0={339} x1={592.7} y0={187} y1={197.3} labelY={183.5} />
        <DotLegend labels={legendA} colors={[C_A100, C_A10, C_A3, C_TDC]} xDots={[230, 234.4, 238.8]} xText={245} yStart={416.7} dy={10.1} />
        <DotLegend labels={legendD} colors={[C_A100, C_A10, C_A3]} xDots={[494, 498.4, 502.8]} xText={506} yStart={425.3} dy={10.7} />
        <ColorBar labels={pseudoLabels} colors={pseudoColors} x0={39.3} x1={289.3} y0={692.7} y1={703.3} labelY={689.3} />
        <ColorBar labels={pseudoLabels} colors={pseudoColors} x0={336} x1={593.3} y0={515.7} y1={526.7} labelY={535.5} />
      </svg>
    </div>
  );
}
